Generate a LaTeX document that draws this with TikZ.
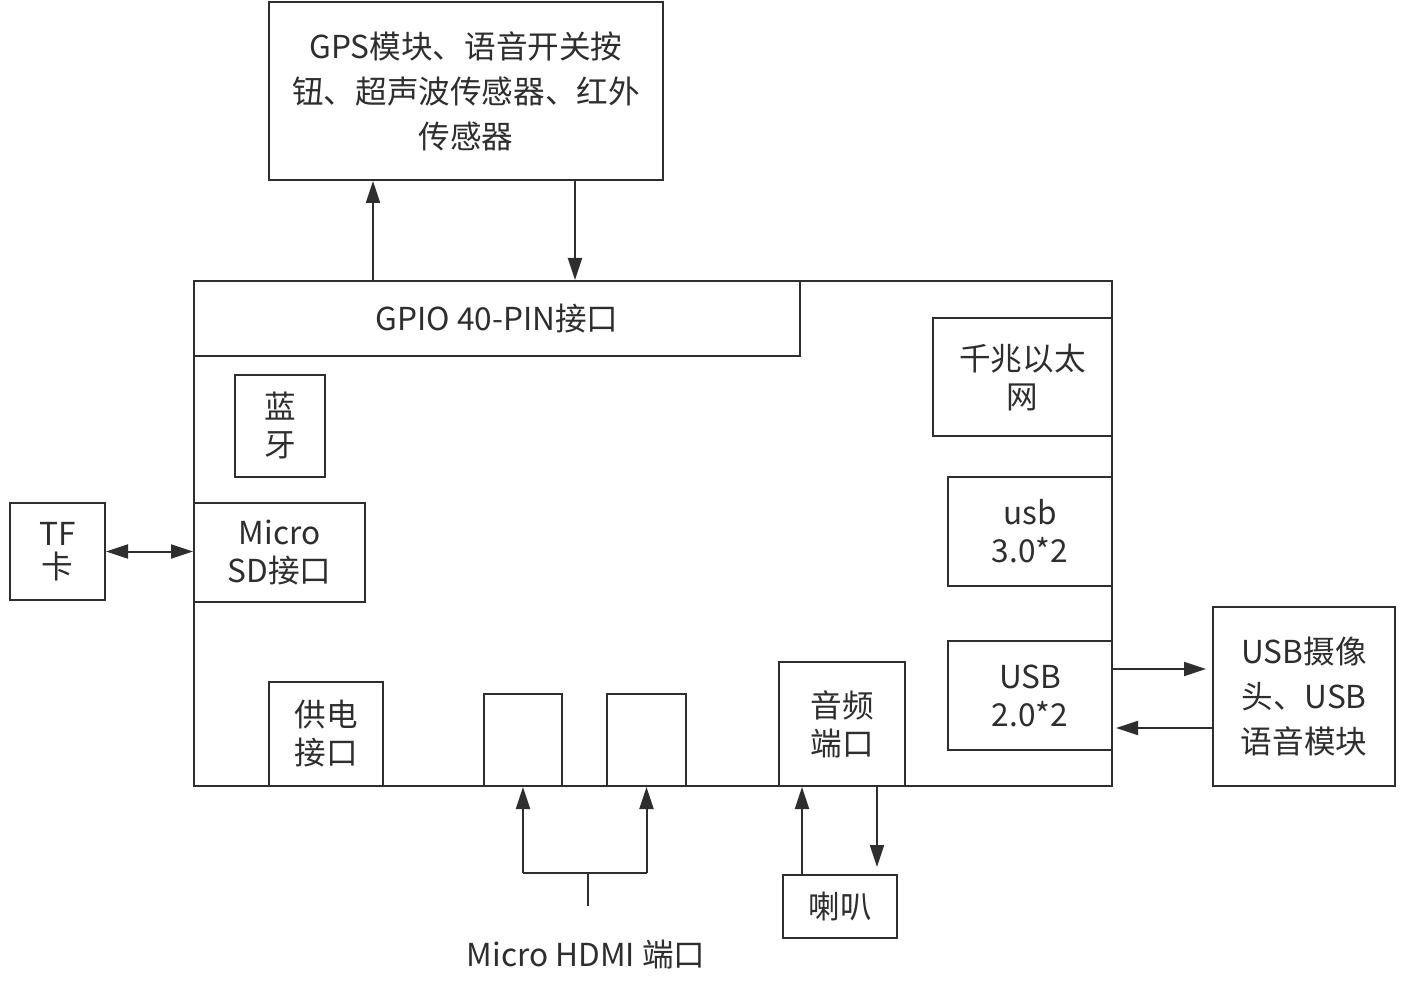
\documentclass[tikz,border=0pt]{standalone}
\usepackage{fontspec}
\setmainfont{Noto Sans CJK SC}
\usetikzlibrary{arrows.meta}
\definecolor{ink}{HTML}{2E2E2E}
\tikzset{
  box/.style={draw=ink, line width=1pt, fill=white, inner sep=0pt, align=center, text=ink,
              font=\fontsize{15.8pt}{19pt}\selectfont},
  tallbox/.style={box, font=\fontsize{15.8pt}{22.5pt}\selectfont},
  arr/.style={draw=ink, line width=1pt, -{Triangle[length=11pt,width=7pt]}},
  arrtwo/.style={draw=ink, line width=1pt, {Triangle[length=11pt,width=7pt]}-{Triangle[length=11pt,width=7pt]}},
  plain/.style={draw=ink, line width=1pt},
  lbl/.style={text=ink, font=\fontsize{15.8pt}{19pt}\selectfont, inner sep=0pt}
}
\begin{document}
\begin{tikzpicture}[x=0.5pt,y=-0.5pt]
\useasboundingbox (0,0) rectangle (1401,988);
% main board
\node[box, minimum width=459pt, minimum height=252.5pt] (main) at (653,533.5) {};
% top box
\node[tallbox, minimum width=197pt, minimum height=89pt] (gps) at (466,91)
  {GPS模块、语音开关按\\钮、超声波传感器、红外\\传感器};
% inner boxes
\node[box, minimum width=303pt, minimum height=37.5pt] (gpio) at (497,318.5) {GPIO 40-PIN接口};
\node[box, minimum width=45pt, minimum height=51pt] (bt) at (280,426) {蓝\\牙};
\node[box, minimum width=85.5pt, minimum height=49.5pt] (sd) at (279.5,552.5) {Micro\\SD接口};
\node[box, minimum width=47.5pt, minimum height=48.5pt, font=\fontsize{15.8pt}{16.5pt}\selectfont] (tf) at (57.5,551.5) {TF\\卡};
\node[box, minimum width=89.5pt, minimum height=59pt] (eth) at (1022.5,377) {千兆以太\\网};
\node[box, minimum width=82pt, minimum height=54.5pt] (usb3) at (1030,531.5) {usb\\3.0*2};
\node[box, minimum width=82pt, minimum height=54.5pt] (usb2) at (1030,695.5) {USB\\2.0*2};
\node[tallbox, minimum width=91pt, minimum height=89.5pt] (cam) at (1304,696.5) {USB摄像\\头、USB\\语音模块};
\node[box, minimum width=57pt, minimum height=52pt] (pwr) at (326,734) {供电\\接口};
\node[box, minimum width=39pt, minimum height=46pt] (h1) at (523,740) {};
\node[box, minimum width=39.5pt, minimum height=46pt] (h2) at (646.5,740) {};
\node[box, minimum width=63pt, minimum height=62pt] (aud) at (842,724) {音频\\端口};
\node[box, minimum width=57pt, minimum height=31.5pt] (spk) at (840,906.5) {喇叭};
\node[lbl] (hdmilabel) at (586,955) {Micro HDMI 端口};
% helper coordinates
\coordinate (xu) at (373,0);
\coordinate (xd) at (575,0);
\coordinate (yr) at (0,669);
\coordinate (yl) at (0,728);
\coordinate (hj) at (588,873);
\coordinate (hb) at (588,906);
\coordinate (au) at (802,0);
\coordinate (ad) at (877,0);
% connectors
\draw[arr] (xu |- main.north) -- (xu |- gps.south);
\draw[arr] (xd |- gps.south) -- (xd |- main.north);
\draw[arrtwo] (tf.east) -- (tf.east -| sd.west);
\draw[arr, shorten >=3pt] (yr -| usb2.east) -- (yr -| cam.west);
\draw[arr, shorten >=1.5pt] (yl -| cam.west) -- (yl -| usb2.east);
\draw[arr] (hj -| h1.south) -- (h1.south);
\draw[arr] (hj -| h2.south) -- (h2.south);
\draw[plain] (hj -| h1.south) -- (hj -| h2.south);
\draw[plain] (hj) -- (hb);
\draw[arr] (au |- spk.north) -- (au |- aud.south);
\draw[arr, shorten >=3.5pt] (ad |- aud.south) -- (ad |- spk.north);
\end{tikzpicture}
\end{document}
